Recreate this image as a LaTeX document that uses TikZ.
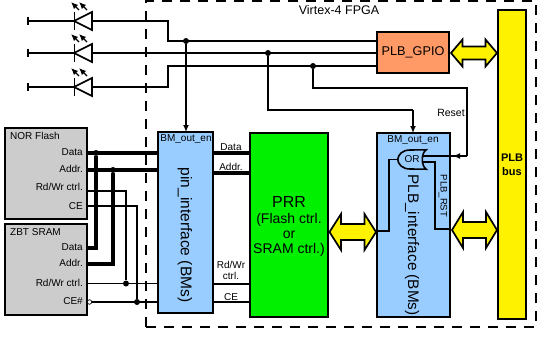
\documentclass[tikz,border=0pt]{standalone}
\usepackage{fontspec}
\setmainfont{Liberation Sans}
\usetikzlibrary{arrows.meta}
\definecolor{gpiocol}{HTML}{FF9966}
\definecolor{ifcol}{HTML}{99CCFF}
\definecolor{memcol}{HTML}{CCCCCC}
\definecolor{prrcol}{HTML}{00F000}
\newcommand{\fs}[1]{\fontsize{#1}{#1}\selectfont}
% left tip, right tip, head length, half shaft, half head
\newcommand{\yellowarrow}[5]{
    \draw[yellow arrow] (#1) -- ([shift={(#3,-#5)}]#1) -- ([shift={(#3,-#4)}]#1)
        -- ([shift={(-#3,-#4)}]#2) -- ([shift={(-#3,-#5)}]#2) -- (#2)
        -- ([shift={(-#3,#5)}]#2) -- ([shift={(-#3,#4)}]#2)
        -- ([shift={(#3,#4)}]#1) -- ([shift={(#3,#5)}]#1) -- cycle;
}
\begin{document}
\begin{tikzpicture}[x=1pt, y=-1pt, >={Latex[length=7pt,width=6pt]},
    box/.style={draw, line width=1.7pt, inner sep=0pt, outer sep=0pt, align=center},
    lbl/.style={inner sep=0pt, align=center, font=\fs{10}},
    wire/.style={line width=1.6pt},
    thin wire/.style={line width=1.1pt},
    bus wire/.style={line width=3.6pt},
    dot/.style={circle, fill=black, inner sep=0pt, minimum size=6pt},
    yellow arrow/.style={draw, fill=yellow, line width=1.7pt, line join=miter}]
    \useasboundingbox (0,0) rectangle (537,337);

    % FPGA frame
    \node[draw, dash pattern=on 10pt off 8pt, line width=2pt, minimum width=390, minimum height=326, inner sep=0pt] (fpga) at (341,164) {};
    \node[lbl, font=\fs{12.5}] (fpgatitle) at (339,10) {Virtex-4 FPGA};

    % Nodes
    \node[box, fill=gpiocol, minimum width=72, minimum height=41, font=\fs{12.7}] (gpio) at (413,52.5) {PLB\_GPIO};
    \node[box, fill=yellow, minimum width=28, minimum height=309] (plbbus) at (512,164.5) {};
    \node[lbl, font=\bfseries\fs{11}] (plbbustext) at (512,165) {PLB\\[3pt]bus};
    \node[box, fill=memcol, minimum width=82, minimum height=91] (nor) at (46,173.5) {};
    \node[box, fill=memcol, minimum width=82, minimum height=91] (sram) at (46,269.5) {};
    \node[box, fill=ifcol, minimum width=55, minimum height=181] (pinif) at (185.5,222.5) {};
    \node[box, fill=prrcol, minimum width=78, minimum height=184] (prr) at (289,225) {};
    \node[box, fill=ifcol, minimum width=73, minimum height=184] (plbif) at (413.5,225) {};

    % Texts in the boxes
    \node[lbl, anchor=west] (nortitle) at (10,136) {NOR Flash};
    \node[lbl, anchor=west] (sramtitle) at (10,232) {ZBT SRAM};
    \foreach \y/\t in {152/Data, 169/Addr., 187/Rd\slash Wr ctrl., 206/CE, 247/Data, 263/Addr., 283/Rd\slash Wr ctrl., 301/CE\#}
        \node[lbl, anchor=east] at (83,\y) {\t};
    \node[lbl] (pinen) at (186,139) {BM\_out\_en};
    \node[lbl, rotate=-90, font=\fs{15.5}] (pintext) at (185,235) {pin\_interface (BMs)};
    \node[lbl] (plben) at (413,140) {BM\_out\_en};
    \node[lbl, rotate=-90, font=\fs{15.3}] (plbtext) at (412,245) {PLB\_interface (BMs)};
    \node[lbl, rotate=-90, font=\fs{9.5}] (rsttext) at (443,196) {PLB\_RST};
    \node[lbl, font=\fs{16}] (prrtext) at (289,202) {PRR};
    \node[lbl, font=\fs{14}] (prrsub) at (289,235) {(Flash ctrl.\\[1pt]or\\[1pt]SRAM ctrl.)};
    \node[lbl] (datatext) at (231,147) {Data};
    \node[lbl] (addrtext) at (231,167) {Addr.};
    \node[lbl] (rdwrtext) at (231,270.5) {Rd\slash Wr\\[1pt]ctrl.};
    \node[lbl] (cetext) at (231,297) {CE};
    \node[lbl, font=\fs{10.5}] (resettext) at (451,113) {Reset};

    % LEDs
    \foreach \y/\n in {21/a, 53/b, 87/c} {
        \coordinate (term\n) at (28,\y);
        \coordinate (tip\n) at (74,\y);
        \coordinate (base\n) at (92,\y);
        \draw[line width=1.1pt] (28,\y-4) -- (28,\y+4);
        \draw[line width=0.7pt] (74,\y-9) -- (74,\y+9);
        \draw[wire] (term\n) -- (tip\n);
        \draw[wire, line join=miter] (tip\n) -- (92,\y-9) -- (92,\y+9) -- cycle;
        \draw[->, line width=1.4pt] (79,\y-11) -- (71,\y-19);
        \draw[->, line width=1.4pt] (87,\y-11) -- (79,\y-19);
    }

    % Arrows
    \node[dot] (dota) at (186,41) {};
    \node[dot] (dotb) at (268,53) {};
    \node[dot] (dotc) at (313,66) {};
    \draw[wire] (basea) -- (168,21) -- (168,41) -- (gpio.west |- dota);
    \draw[wire] (baseb) -- (gpio.west |- baseb);
    \draw[wire] (basec) -- (168,87) -- (168,66) -- (gpio.west |- dotc);
    \draw[wire, ->] (dota) -- (dota |- pinif.north);
    \coordinate (enturn) at (413,110);
    \draw[wire] (dotb) |- (enturn);
    \draw[wire, ->] (enturn) -- (enturn |- plbif.north);

    % OR gate
    \node[lbl, inner sep=0pt, minimum width=28, minimum height=19, font=\fs{10}] (orgate) at (412,159.5) {OR};
    \draw[wire] (orgate.north east) .. controls (421,153) and (421,166) .. (orgate.south east)
        -- (410,169) .. controls (402,169) and (398,164) .. (orgate.west)
        .. controls (398,155) and (402,150) .. (410,150) -- cycle;
    \coordinate (rstturn) at (467,88);
    \coordinate (rstend) at (467,156);
    \draw[thin wire] (dotc) |- (rstturn) -- (rstend);
    \draw[wire] (rstend) -- (422,156);
    \draw[wire, ->] (rstend) -- (453,156);
    \coordinate (rstturnb) at (435,162);
    \coordinate (rstturnc) at (435,229);
    \draw[wire] (422,162) -- (rstturnb) -- (rstturnc) -- (plbif.east |- rstturnc);
    \coordinate (orturn) at (389,159.5);
    \coordinate (orturnb) at (389,231);
    \draw[wire] (orgate.west) -- (orturn) -- (orturnb) -- (plbif.west |- orturnb);

    % Memory wires
    \node[dot] (dotdata) at (96,153) {};
    \node[dot] (dotaddr) at (113,170) {};
    \node[dot] (dotrdwr) at (126,283.5) {};
    \node[dot] (dotce) at (137,302) {};
    \draw[bus wire] (nor.east |- dotdata) -- (pinif.west |- dotdata);
    \draw[bus wire] (nor.east |- dotaddr) -- (pinif.west |- dotaddr);
    \draw[bus wire] (dotdata) |- (sram.east |- 0,248);
    \draw[bus wire] (dotaddr) |- (sram.east |- 0,264);
    \draw[thin wire] (nor.east |- 0,191) -| (dotrdwr);
    \draw[thin wire] (nor.east |- 0,206) -| (dotce);
    \draw[wire] (sram.east |- dotrdwr) -- (pinif.west |- dotrdwr);
    \node[circle, draw, fill=white, line width=0.7pt, inner sep=0pt, minimum size=4.5pt] (ceinv) at (89.5,302) {};
    \draw[thin wire] (ceinv) -- (pinif.west |- dotce);
    \draw[bus wire] (pinif.east |- 0,153) -- (prr.west |- 0,153);
    \draw[bus wire] (pinif.east |- 0,173) -- (prr.west |- 0,173);
    \draw[wire] (pinif.east |- 0,284) -- (prr.west |- 0,284);
    \draw[thin wire] (pinif.east |- 0,302) -- (prr.west |- 0,302);

    % Yellow arrows
    \coordinate (gpiotip) at (451,53);
    \coordinate (bustipa) at (497,53);
    \coordinate (prrtip) at (329.5,232);
    \coordinate (plbtipa) at (376,232);
    \coordinate (plbtipb) at (452,230);
    \coordinate (bustipb) at (497,230);
    \yellowarrow{gpiotip}{bustipa}{11.5}{6.5}{13.5}
    \yellowarrow{prrtip}{plbtipa}{11.5}{8}{18}
    \yellowarrow{plbtipb}{bustipb}{11}{8}{18}
\end{tikzpicture}
\end{document}
